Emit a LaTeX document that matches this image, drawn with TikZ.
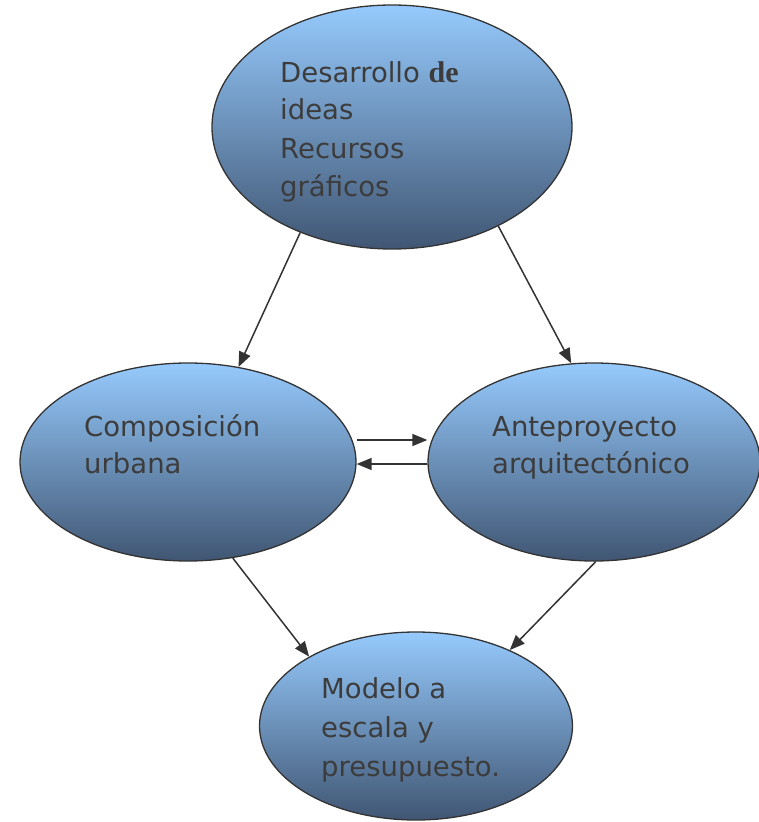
\documentclass[tikz,border=0pt]{standalone}
\usepackage{fontspec}
\setmainfont{DejaVu Sans}
\newfontfamily\serifde{Liberation Serif}
\usetikzlibrary{shapes.geometric,arrows.meta}
\definecolor{topc}{HTML}{96CAFD}
\definecolor{midc}{HTML}{75A0CB}
\definecolor{botc}{HTML}{405673}
\definecolor{ink}{HTML}{333333}
\definecolor{txt}{HTML}{3C3C3C}
\begin{document}
\begin{tikzpicture}[x=1pt,y=-1pt,
  bubble/.style={ellipse,draw=ink,line width=1.3pt,inner sep=0pt,top color=topc,middle color=midc,bottom color=botc},
  lbl/.style={anchor=base west,inner sep=0pt,text=txt,font=\fontsize{27.5}{30}\selectfont},
  arr/.style={draw=ink,line width=1.5pt,-{Triangle[length=15pt,width=12pt]}}]
\useasboundingbox (0,0) rectangle (759,822);
\node[bubble,minimum width=360pt,minimum height=244pt] (top) at (392,127) {};
\node[bubble,minimum width=336pt,minimum height=198pt] (left) at (188,462) {};
\node[bubble,minimum width=332pt,minimum height=198pt] (right) at (594,462) {};
\node[bubble,minimum width=313pt,minimum height=188pt] (bot) at (416,726) {};
% texts
\node[lbl] (t1) at (280,82) {Desarrollo {\serifde\bfseries\fontsize{30}{30}\selectfont de}};
\node[lbl] (t2) at (280,119) {ideas};
\node[lbl] (t3) at (280,158) {Recursos};
\node[lbl] (t4) at (280,196) {gráficos};
\node[lbl] (l1) at (84,436) {Composición};
\node[lbl] (l2) at (84,473) {urbana};
\node[lbl] (r1) at (492,436) {Anteproyecto};
\node[lbl] (r2) at (492,473) {arquitectónico};
\node[lbl] (b1) at (321,698) {Modelo a};
\node[lbl] (b2) at (321,737) {escala y};
\node[lbl] (b3) at (321,776) {presupuesto.};
% connectors
\draw[arr] (top.229) -- (left.62.5);
\draw[arr] (top.317.5) -- (right.103);
\draw[arr] ([yshift=22pt]left.east) -- ([yshift=22pt]right.west);
\draw[arr] ([yshift=-2pt]right.west) -- ([yshift=-2pt]left.east);
\draw[arr] (left.295.6) -- (bot.147.3);
\draw[arr] (right.271) -- (bot.39.1);
\end{tikzpicture}
\end{document}
